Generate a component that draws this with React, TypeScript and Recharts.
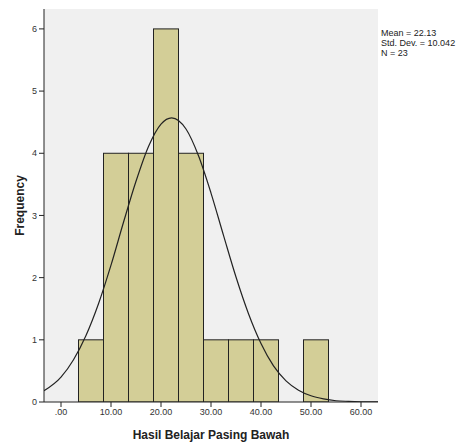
import {
	Bar,
	CartesianGrid,
	ComposedChart,
	Label,
	Line,
	XAxis,
	YAxis,
} from "recharts";

document.body.style.margin = "0";

// histogram bins (centres, width 5)
const binCentres = [6, 11, 16, 21, 26, 31, 36, 41, 46, 51];
const binCounts = [1, 4, 4, 6, 4, 1, 1, 1, 0, 1];
const BIN_WIDTH = 5;

// fitted normal curve
const curveX = [
	-3.4, 0, 2.5, 5, 7.5, 10, 12.5, 15, 17.5, 20, 22.13, 25, 27.5, 30, 32.5, 35,
	37.5, 40, 42.5, 45, 47.5, 50, 52.5, 55, 57.5, 60, 63.4,
];
const curveY = [
	0.18, 0.4, 0.68, 1.07, 1.58, 2.2, 2.89, 3.55, 4.11, 4.47, 4.57, 4.39, 3.96,
	3.36, 2.68, 2.01, 1.42, 0.94, 0.58, 0.34, 0.19, 0.1, 0.05, 0.02, 0.01, 0.004,
	0.001,
];

const xTicks = [0, 10, 20, 30, 40, 50, 60];
const yTicks = [0, 1, 2, 3, 4, 5, 6];
const stats = ["Mean = 22.13", "Std. Dev. = 10.042", "N = 23"];

const bins = binCentres.map((x, i) => ({ x, count: binCounts[i] }));
const curve = curveX.map((x, i) => ({ x, fit: curveY[i] }));

const W = 457;
const H = 443;
const MARGIN = { top: 9, right: 79, bottom: 0, left: 0 };
const Y_AXIS_W = 44;
const X_DOMAIN: [number, number] = [-3.4, 63.4];
const plotW = W - MARGIN.left - MARGIN.right - Y_AXIS_W;
const binPx = (plotW / (X_DOMAIN[1] - X_DOMAIN[0])) * BIN_WIDTH;

const FONT = "'Liberation Sans', Arial, sans-serif";
const tickStyle = { fontSize: 9, fill: "#333", fontFamily: FONT };

// draw each bar the full bin width around the centre the library gives
function BinRect(props: any) {
	const { x, y, width, height } = props;
	if (!height || height <= 0) return <g />;
	const cx = x + width / 2;
	return (
		<rect
			x={cx - binPx / 2}
			y={y}
			width={binPx}
			height={height}
			fill="#d3ce97"
			stroke="#222"
			strokeWidth={1}
		/>
	);
}

export default function App() {
	return (
		<div style={{ position: "relative", width: W, height: H, background: "#fff" }}>
			<ComposedChart width={W} height={H} data={bins} margin={MARGIN}>
				<CartesianGrid fill="#f0f0f0" horizontal={false} vertical={false} />
				<XAxis
					dataKey="x"
					type="number"
					domain={X_DOMAIN}
					ticks={xTicks}
					allowDataOverflow
					height={41}
					stroke="#222"
					tickSize={5}
					tick={tickStyle}
					tickFormatter={(v: number) => (v === 0 ? ".00" : v.toFixed(2))}
				>
					<Label
						value="Hasil Belajar Pasing Bawah"
						position="insideBottom"
						offset={4}
						style={{ fontSize: 12, fontWeight: "bold", fill: "#222", fontFamily: FONT }}
					/>
				</XAxis>
				<XAxis
					xAxisId="top"
					orientation="top"
					type="number"
					domain={X_DOMAIN}
					height={0}
					tick={false}
					tickLine={false}
					stroke="#888"
				/>
				<YAxis
					type="number"
					domain={[0, 6.32]}
					ticks={yTicks}
					allowDataOverflow
					width={Y_AXIS_W}
					stroke="#222"
					tickSize={5}
					tick={tickStyle}
				>
					<Label
						value="Frequency"
						angle={-90}
						position="insideLeft"
						offset={20}
						style={{ fontSize: 12, fontWeight: "bold", fill: "#222", fontFamily: FONT, textAnchor: "middle" }}
					/>
				</YAxis>
				<YAxis
					yAxisId="right"
					orientation="right"
					width={0}
					tick={false}
					tickLine={false}
					stroke="#666"
				/>
				<Bar dataKey="count" shape={BinRect} isAnimationActive={false} />
				<Line
					data={curve}
					dataKey="fit"
					type="monotone"
					stroke="#222"
					strokeWidth={1.2}
					dot={false}
					activeDot={false}
					isAnimationActive={false}
				/>
			</ComposedChart>
			<div
				style={{
					position: "absolute",
					left: 381,
					top: 28,
					fontFamily: FONT,
					fontSize: 9,
					lineHeight: "10px",
					color: "#222",
				}}
			>
				{stats.map((s) => (
					<div key={s}>{s}</div>
				))}
			</div>
		</div>
	);
}
